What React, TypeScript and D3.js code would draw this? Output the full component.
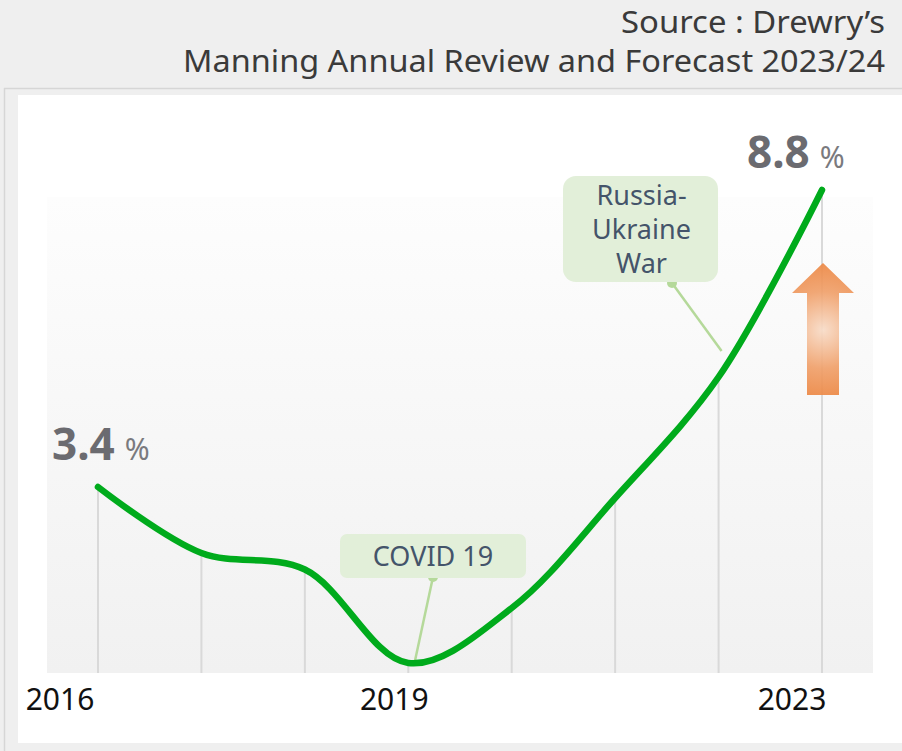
import React from "react";
import * as d3 from "d3";

const years = [2016, 2017, 2018, 2019, 2020, 2021, 2022, 2023];
const rates = [3.4, 2.2, 1.9, 0.2, 1.2, 3.2, 5.4, 8.8];
const axisLabels = [2016, 2019, 2023];
const titleLines = ["Source : Drewry\u2019s", "Manning Annual Review and Forecast 2023/24"];
const annotations = [
  { year: 2019, lines: ["COVID 19"] },
  { year: 2022, lines: ["Russia-", "Ukraine", "War"] },
];
const endLabels = [
  { year: 2016, value: "3.4" },
  { year: 2023, value: "8.8" },
];

const W = 902;
const H = 751;
const plot = { left: 47, right: 873, top: 197, bottom: 673 };

export default function App() {
  const x = d3.scaleLinear().domain([2016, 2023]).range([98, 822]);
  const y = d3.scaleLinear().domain([0, 8.8]).range([674, 190]);
  const pts: [number, number][] = years.map((yr, i) => [x(yr), y(rates[i])]);
  const line = d3.line().curve(d3.curveCatmullRom.alpha(0.5))(pts) || "";

  const axisDx: Record<number, number> = { 2016: -38, 2019: -14, 2023: -30 };
  const endPos: Record<number, { x: number; y: number }> = {
    2016: { x: 52, y: 460 },
    2023: { x: 747, y: 168 },
  };
  const titleLen = [264, 702];

  const covidBox = { x: 340, y: 534, w: 186, h: 44, r: 7 };
  const ruBox = { x: 563, y: 176, w: 155, h: 106, r: 13 };

  const arrowCx = x(2023) + 1;
  const arrow = `M${arrowCx},263 L${arrowCx + 31},293 L${arrowCx + 16},293 L${arrowCx + 16},395 L${arrowCx - 16},395 L${arrowCx - 16},293 L${arrowCx - 31},293 Z`;

  const font = "'Noto Sans', 'Noto Sans CJK KR', sans-serif";

  return (
    <div style={{ position: "absolute", left: 0, top: 0 }}>
      <svg width={W} height={H} style={{ display: "block" }}>
        <defs>
          <linearGradient id="plotbg" x1="0" y1="0" x2="0" y2="1">
            <stop offset="0" stopColor="#fdfdfd" />
            <stop offset="1" stopColor="#f1f1f1" />
          </linearGradient>
          <radialGradient id="arrowg" cx={arrowCx} cy={330} r={70} gradientUnits="userSpaceOnUse">
            <stop offset="0" stopColor="#f8dcc8" />
            <stop offset="0.55" stopColor="#f0a06a" />
            <stop offset="1" stopColor="#ec8540" />
          </radialGradient>
        </defs>
        <rect x={0} y={0} width={W} height={H} fill="#efefef" />
        <line x1={4} y1={88.5} x2={W} y2={88.5} stroke="#d6d6d6" strokeWidth={1.5} />
        <line x1={4.5} y1={88} x2={4.5} y2={H} stroke="#d6d6d6" strokeWidth={1.5} />
        <rect x={18} y={95} width={W - 18} height={743 - 95} fill="#ffffff" />
        <rect
          x={plot.left}
          y={plot.top}
          width={plot.right - plot.left}
          height={plot.bottom - plot.top}
          fill="url(#plotbg)"
        />
        {titleLines.map((t, i) => (
          <text
            key={t}
            x={885}
            y={33 + i * 39}
            textAnchor="end"
            fontFamily={font}
            fontSize={31}
            fill="#3a3a3a"
            textLength={titleLen[i]}
            lengthAdjust="spacingAndGlyphs"
          >
            {t}
          </text>
        ))}
        {pts.map(([px, py], i) => (
          <line
            key={years[i]}
            x1={px}
            x2={px}
            y1={py}
            y2={plot.bottom}
            stroke="#d9d9d9"
            strokeWidth={2}
          />
        ))}
        <path d={arrow} fill="url(#arrowg)" opacity={0.92} />
        <line x1={433} y1={577} x2={x(2019) + 6} y2={y(0.2) + 1} stroke="#b5d99a" strokeWidth={2.5} />
        <circle cx={433} cy={577} r={5} fill="#b5d99a" />
        <line x1={672} y1={283} x2={x(2022) + 3} y2={y(5.4) - 26} stroke="#b5d99a" strokeWidth={2.5} />
        <circle cx={672} cy={283} r={5} fill="#b5d99a" />
        <path d={line} fill="none" stroke="#00ab1c" strokeWidth={6.5} strokeLinecap="round" strokeLinejoin="round" />
        <rect x={covidBox.x} y={covidBox.y} width={covidBox.w} height={covidBox.h} rx={covidBox.r} fill="#e2efd9" />
        <text
          x={covidBox.x + covidBox.w / 2}
          y={covidBox.y + 32}
          textAnchor="middle"
          fontFamily={font}
          fontSize={27}
          fill="#44546a"
        >
          {annotations[0].lines[0]}
        </text>
        <rect x={ruBox.x} y={ruBox.y} width={ruBox.w} height={ruBox.h} rx={ruBox.r} fill="#e2efd9" />
        {annotations[1].lines.map((l, i) => (
          <text
            key={l}
            x={ruBox.x + ruBox.w / 2 + 1}
            y={ruBox.y + 29 + i * 34}
            textAnchor="middle"
            fontFamily={font}
            fontSize={27}
            fill="#44546a"
          >
            {l}
          </text>
        ))}
        {endLabels.map((e) => (
          <text key={e.year} x={endPos[e.year].x} y={endPos[e.year].y} fontFamily={font} fill="#6b6b70">
            <tspan fontSize={44} fontWeight="bold">{e.value}</tspan>
            <tspan fontSize={30} dx={10} fill="#7a7a7e">%</tspan>
          </text>
        ))}
        {axisLabels.map((yr) => (
          <text
            key={yr}
            x={x(yr) + axisDx[yr]}
            y={710}
            textAnchor="middle"
            fontFamily={font}
            fontSize={30}
            fill="#111"
          >
            {yr}
          </text>
        ))}
      </svg>
    </div>
  );
}
